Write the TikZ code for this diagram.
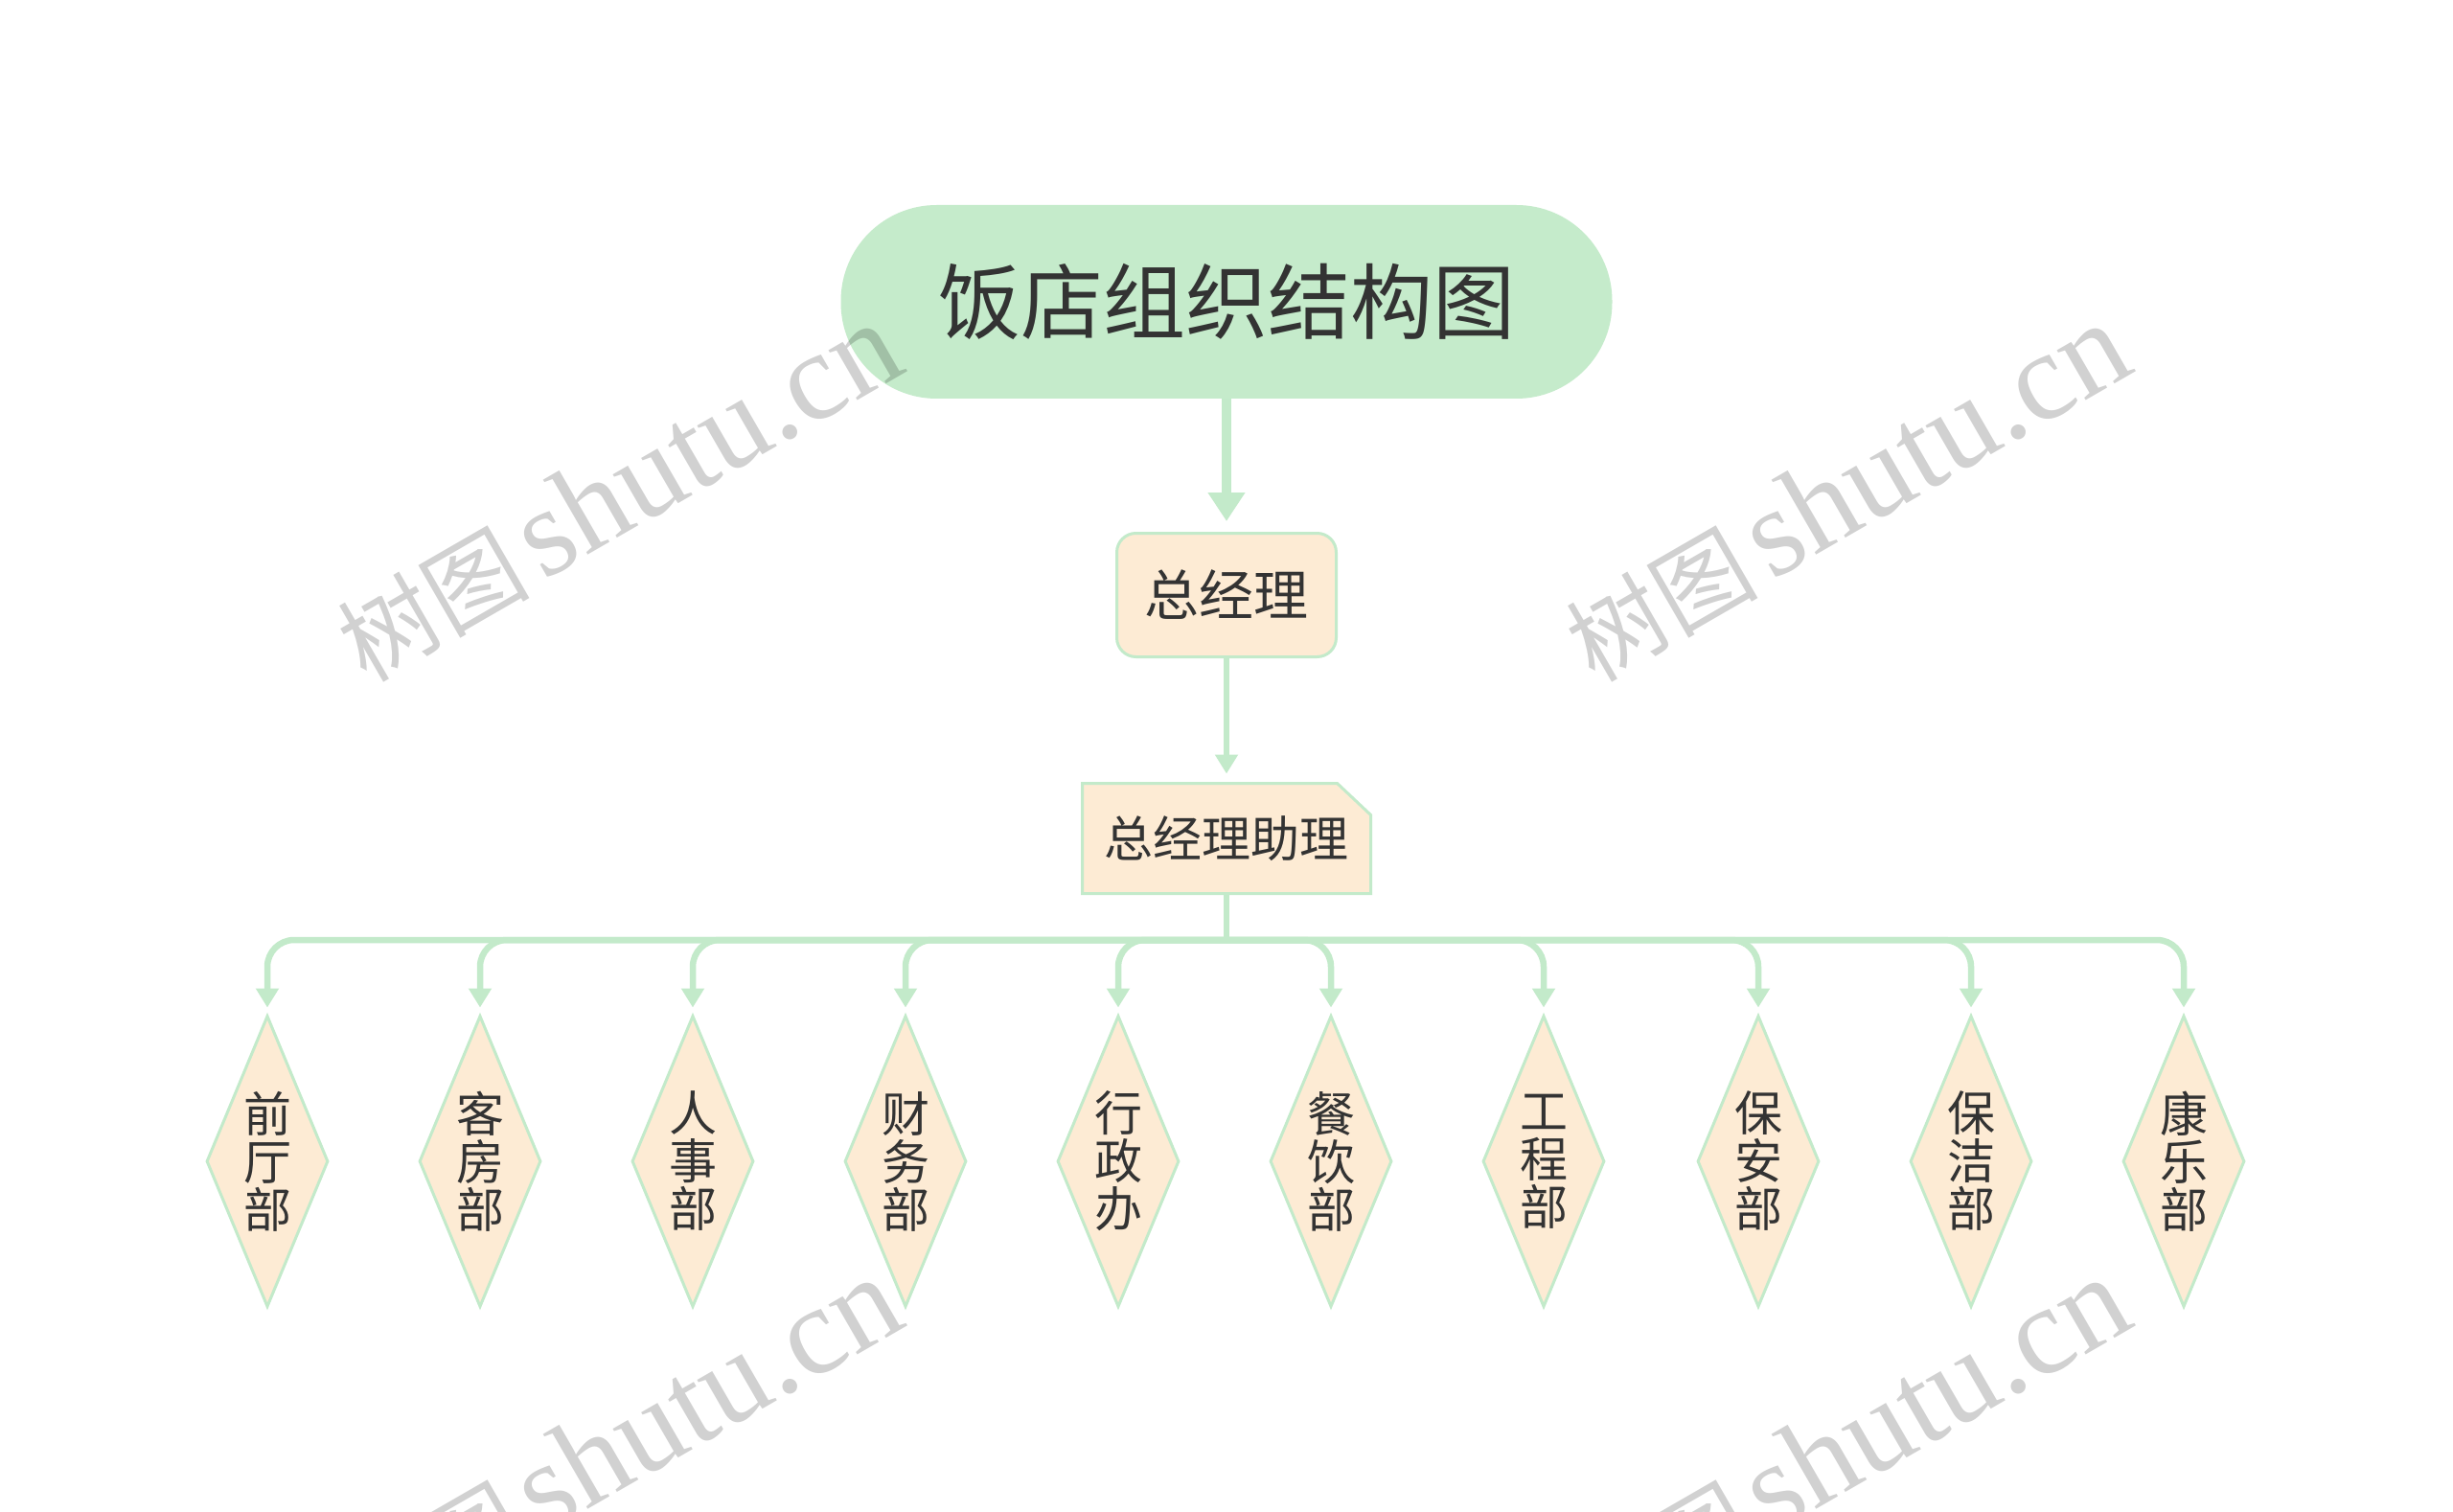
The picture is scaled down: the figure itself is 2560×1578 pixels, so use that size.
\documentclass[tikz,border=0pt]{standalone}
\usepackage{fontspec}
\setmainfont{Noto Sans CJK SC}
\newfontfamily\wmlatin{Liberation Serif}
\usetikzlibrary{arrows.meta,shapes.geometric}
\definecolor{lgreen}{HTML}{C3EACA}
\definecolor{tgreen}{HTML}{C5EBCB}
\definecolor{peach}{HTML}{FDEBD4}
\definecolor{txt}{HTML}{333333}
\newcommand{\wmtext}{{\fontsize{100}{100}\selectfont 树图}\hspace{14pt}{\wmlatin\fontsize{131}{131}\selectfont shutu.cn}}
\begin{document}
\begin{tikzpicture}[x=1pt,y=-1pt,
  titlebox/.style={fill=tgreen, rounded corners=100pt, minimum width=805pt, minimum height=202pt, inner sep=0pt, text=txt, font=\fontsize{86}{86}\selectfont},
  gmbox/.style={fill=peach, draw=lgreen, line width=3pt, rounded corners=20pt, minimum width=229pt, minimum height=129pt, inner sep=0pt, text=txt, font=\fontsize{57}{57}\selectfont},
  asstbox/.style={minimum width=301pt, minimum height=115pt, inner sep=0pt, outer sep=0pt, text=txt, font=\fontsize{51}{51}\selectfont},
  dia/.style={diamond, aspect=0.4235, minimum width=127pt, minimum height=304pt, inner sep=0pt, fill=peach, draw=lgreen, line width=3pt, align=center, text=txt, font=\fontsize{50}{50}\selectfont},
  conn/.style={draw=lgreen, line width=6.5pt, -{Triangle[width=23pt,length=20pt]}},
  wm/.style={text=black, text opacity=0.18, inner sep=0pt}
]
\fill[white] (0,0) rectangle (2560,1578);
\useasboundingbox (0,0) rectangle (2560,1578);

\node[titlebox] (title) at (1280,315) {饭店组织结构图};
\node[gmbox] (gm) at (1280,621) {总经理};
\node[asstbox] (asst) at (1280,875) {};
\filldraw[fill=peach, draw=lgreen, line width=3pt, line join=miter]
  (asst.south west) -- (asst.north west) -- ([xshift=-35pt]asst.north east)
  -- ([yshift=-33pt]asst.north east) -- (asst.south east) -- cycle;
\node[asstbox] at (asst) {总经理助理};

\foreach \i/\x/\t in {1/279/前\\厅\\部, 2/501/客\\房\\部, 3/723/人\\事\\部, 4/945/财\\务\\部, 5/1167/行\\政\\办, 6/1389/餐\\饮\\部, 7/1611/工\\程\\部, 8/1835/保\\安\\部, 9/2057/保\\洁\\部, 10/2279/康\\乐\\部}{
  \node[dia] (d\i) at (\x,1212) {\t};
}

\draw[conn, line width=10pt, -{Triangle[width=37pt,length=30pt]}, shorten >=11pt] (title.south) -- (gm.north);
\draw[conn, shorten >=10pt] (gm.south) -- (asst.north);
\coordinate (bus) at (1280,981);
\draw[draw=lgreen, line width=6.5pt] (asst.south) -- (bus);
\foreach \i in {1,...,10}{
  \draw[conn, rounded corners=28pt, shorten >=7pt] (bus) -| (d\i.north);
}

\node[wm, rotate=30] (wm1) at (645,514) {\wmtext};
\node[wm, rotate=30] (wm2) at (1927,514) {\wmtext};
\node[wm, rotate=30] (wm3) at (645,1510) {\wmtext};
\node[wm, rotate=30] (wm4) at (1927,1510) {\wmtext};
\end{tikzpicture}
\end{document}
